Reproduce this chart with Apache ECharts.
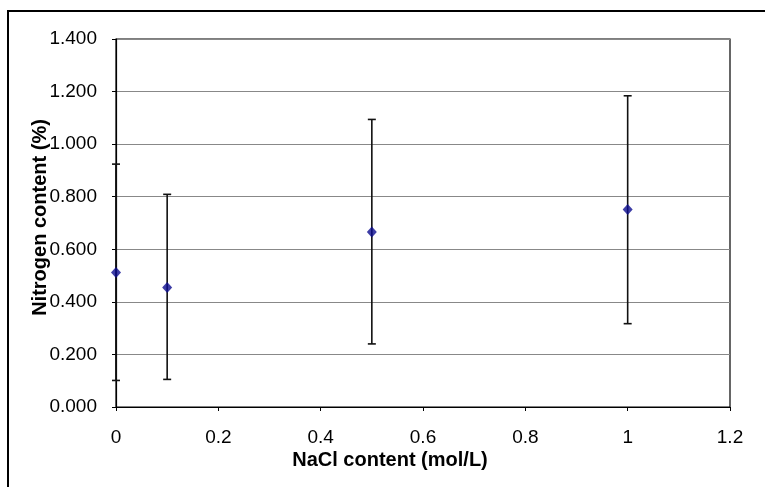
<!DOCTYPE html>
<html>
<head>
<meta charset="utf-8">
<script src="https://cdn.jsdelivr.net/npm/echarts@6/dist/echarts.min.js"></script>
<style>
  html, body { margin: 0; padding: 0; background: #fff; }
  #chart { width: 765px; height: 487px; }
</style>
</head>
<body>
<div id="chart"></div>
<script>
// NaCl content (mol/L) and measured nitrogen content (%)
const nacl = [0, 0.1, 0.5, 1];
const nitrogen = [0.512, 0.455, 0.666, 0.751];
const errLow = [0.101, 0.105, 0.240, 0.317];
const errHigh = [0.924, 0.809, 1.094, 1.184];

const xTicks = [0, 0.2, 0.4, 0.6, 0.8, 1, 1.2];
const yTicks = [0, 0.2, 0.4, 0.6, 0.8, 1.0, 1.2, 1.4];

const chart = echarts.init(document.getElementById('chart'));

const points = nacl.map((x, i) => [x, nitrogen[i]]);
const bars = nacl.map((x, i) => [x, errLow[i], errHigh[i]]);

function renderErrorBar(params, api) {
  const x = api.value(0);
  const lo = api.coord([x, api.value(1)]);
  const hi = api.coord([x, api.value(2)]);
  const cap = 4;
  const style = { stroke: '#111', lineWidth: 1.6 };
  return {
    type: 'group',
    children: [
      { type: 'line', shape: { x1: lo[0], y1: lo[1], x2: hi[0], y2: hi[1] }, style: style },
      { type: 'line', shape: { x1: lo[0] - cap, y1: lo[1], x2: lo[0] + cap, y2: lo[1] }, style: style },
      { type: 'line', shape: { x1: hi[0] - cap, y1: hi[1], x2: hi[0] + cap, y2: hi[1] }, style: style }
    ]
  };
}

chart.setOption({
  animation: false,
  textStyle: { fontFamily: 'Liberation Sans' },
  graphic: [{
    type: 'rect',
    shape: { x: 8, y: 11, width: 800, height: 500 },
    style: { fill: 'none', stroke: '#000', lineWidth: 2 },
    silent: true
  }],
  grid: {
    left: 116, right: 35, top: 39, bottom: 80,
    show: true, borderColor: '#000', borderWidth: 1.2
  },
  xAxis: {
    type: 'value',
    min: 0, max: 1.2, interval: 0.2,
    name: 'NaCl content (mol/L)',
    nameLocation: 'middle',
    nameGap: 43,
    nameMoveOverlap: false,
    nameTextStyle: { fontSize: 20, fontWeight: 'bold', color: '#000', padding: [0, 66, 0, 0] },
    axisLine: { show: true, lineStyle: { color: '#000', width: 1.2 } },
    axisTick: { show: true, length: 4, lineStyle: { color: '#000' } },
    axisLabel: {
      fontSize: 19, color: '#000', margin: 21,
      formatter: v => xTicks.includes(+v.toFixed(1)) ? String(+v.toFixed(1)) : ''
    },
    splitLine: { show: false }
  },
  yAxis: {
    type: 'value',
    min: 0, max: 1.4, interval: 0.2,
    name: 'Nitrogen content (%)',
    nameLocation: 'middle',
    nameGap: 66,
    nameMoveOverlap: false,
    nameTextStyle: { fontSize: 20, fontWeight: 'bold', color: '#000', padding: [0, 0, 0, 11] },
    axisLine: { show: true, lineStyle: { color: '#000', width: 1.2 } },
    axisTick: { show: true, length: 4, lineStyle: { color: '#000' } },
    axisLabel: {
      fontSize: 19, color: '#000', margin: 19,
      formatter: v => yTicks.includes(+v.toFixed(1)) ? v.toFixed(3) : ''
    },
    splitLine: { show: true, lineStyle: { color: '#888', width: 1 } }
  },
  series: [
    {
      type: 'custom',
      renderItem: renderErrorBar,
      data: bars,
      encode: { x: 0, y: [1, 2] },
      z: 2
    },
    {
      type: 'scatter',
      data: points,
      symbol: 'diamond',
      symbolSize: [10, 11],
      itemStyle: { color: '#0c0c90' },
      z: 3
    }
  ]
});
</script>
</body>
</html>
